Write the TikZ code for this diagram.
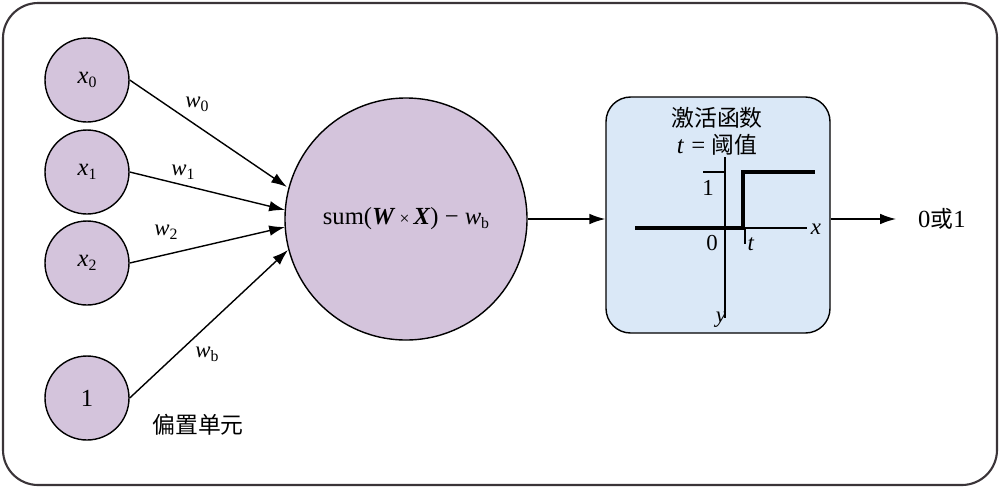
\documentclass[tikz,border=0pt]{standalone}
\usepackage{fontspec}
\setmainfont{Liberation Serif}
\newfontfamily\cjk{Noto Sans CJK SC}
\usetikzlibrary{arrows.meta}
\definecolor{lav}{HTML}{D4C4DC}
\definecolor{lblue}{HTML}{DAE8F7}
\definecolor{frame}{HTML}{3A3438}
\newcommand{\iv}[2]{\textit{#1}\raisebox{-0.35ex}{\fontsize{9}{10}\selectfont #2}}
\begin{document}
\begin{tikzpicture}[x=0.02cm,y=-0.02cm,
  inp/.style={circle,draw=black,line width=0.8pt,fill=lav,minimum size=84*0.02cm,inner sep=0pt,font=\fontsize{14}{16}\selectfont},
  arr/.style={-{Latex[length=9pt,width=6pt]},line width=0.8pt},
  lbl/.style={font=\fontsize{13}{15}\selectfont},
  cjklbl/.style={font=\cjk\fontsize{13}{15}\selectfont}]
\useasboundingbox (0,0) rectangle (1000,488);
\draw[frame,line width=1.2pt,fill=white,rounded corners=20pt] (3,3) rectangle (997,485);
\node[inp] (x0) at (87,80) {\iv{x}{0}};
\node[inp] (x1) at (87,172) {\iv{x}{1}};
\node[inp] (x2) at (87,263) {\iv{x}{2}};
\node[inp] (b) at (87,398) {1};
\node[circle,draw=black,line width=0.8pt,fill=lav,minimum size=242*0.02cm,inner sep=0pt,font=\fontsize{14}{16}\selectfont] (s) at (406,219) {sum(\textbf{\textit{W}}\,\fontsize{10}{12}\selectfont×\fontsize{14}{16}\selectfont\,\textbf{\textit{X}}) − \iv{w}{b}};
\coordinate (s0) at (287,187);
\coordinate (s1) at (285,210);
\coordinate (s2) at (285,227);
\coordinate (s3) at (288,250);
\draw[arr] (x0.east) -- (s0);
\draw[arr] (x1.east) -- (s1);
\draw[arr] (x2.east) -- (s2);
\draw[arr] (b.east) -- (s3);
\node[lbl] (w0) at (197,104) {\iv{w}{0}};
\node[lbl] (w1) at (183,172) {\iv{w}{1}};
\node[lbl] (w2) at (166,232) {\iv{w}{2}};
\node[lbl] (wb) at (207,354) {\iv{w}{b}};
\node[cjklbl] (bias) at (198,425) {偏置单元};
\node[draw=black,line width=0.8pt,fill=lblue,rounded corners=14pt,minimum width=224*0.02cm,minimum height=236*0.02cm,inner sep=0pt] (act) at (718,215) {};
\node[cjklbl] (t1) at (717,118) {激活函数};
\node[cjklbl] (t2) at (717,145) {{\rmfamily\itshape\fontsize{14}{16}\selectfont t =} 阈值};
\coordinate (ytop) at (725,157);
\coordinate (ybot) at (725,318);
\coordinate (xl) at (635,228);
\coordinate (xr) at (807,228);
\draw[line width=0.8pt] (ytop) -- (ybot);
\draw[line width=0.8pt] (xl) -- (xr);
\draw[line width=2pt] (xl) -- (743,228) -- (743,172) -- (815,172);
\draw[line width=0.8pt] (703,172) -- (725,172);
\draw[line width=0.8pt] (745,228) -- (745,244);
\node[lbl] (one) at (708,188) {1};
\node[lbl] (zero) at (712,243) {0};
\node[lbl] (tl) at (751,244) {\textit{t}};
\node[lbl] (xlab) at (816,229) {\textit{x}};
\node[lbl] (ylab) at (721,320) {\textit{y}};
\draw[arr] (s.east) -- (act.west |- s.east);
\coordinate (oe) at (896,219);
\draw[arr] (act.east |- s.east) -- (oe);
\node[font=\fontsize{14}{16}\selectfont,anchor=west] (out) at (912,219) {0{\cjk\fontsize{13}{15}\selectfont 或}1};
\end{tikzpicture}
\end{document}
